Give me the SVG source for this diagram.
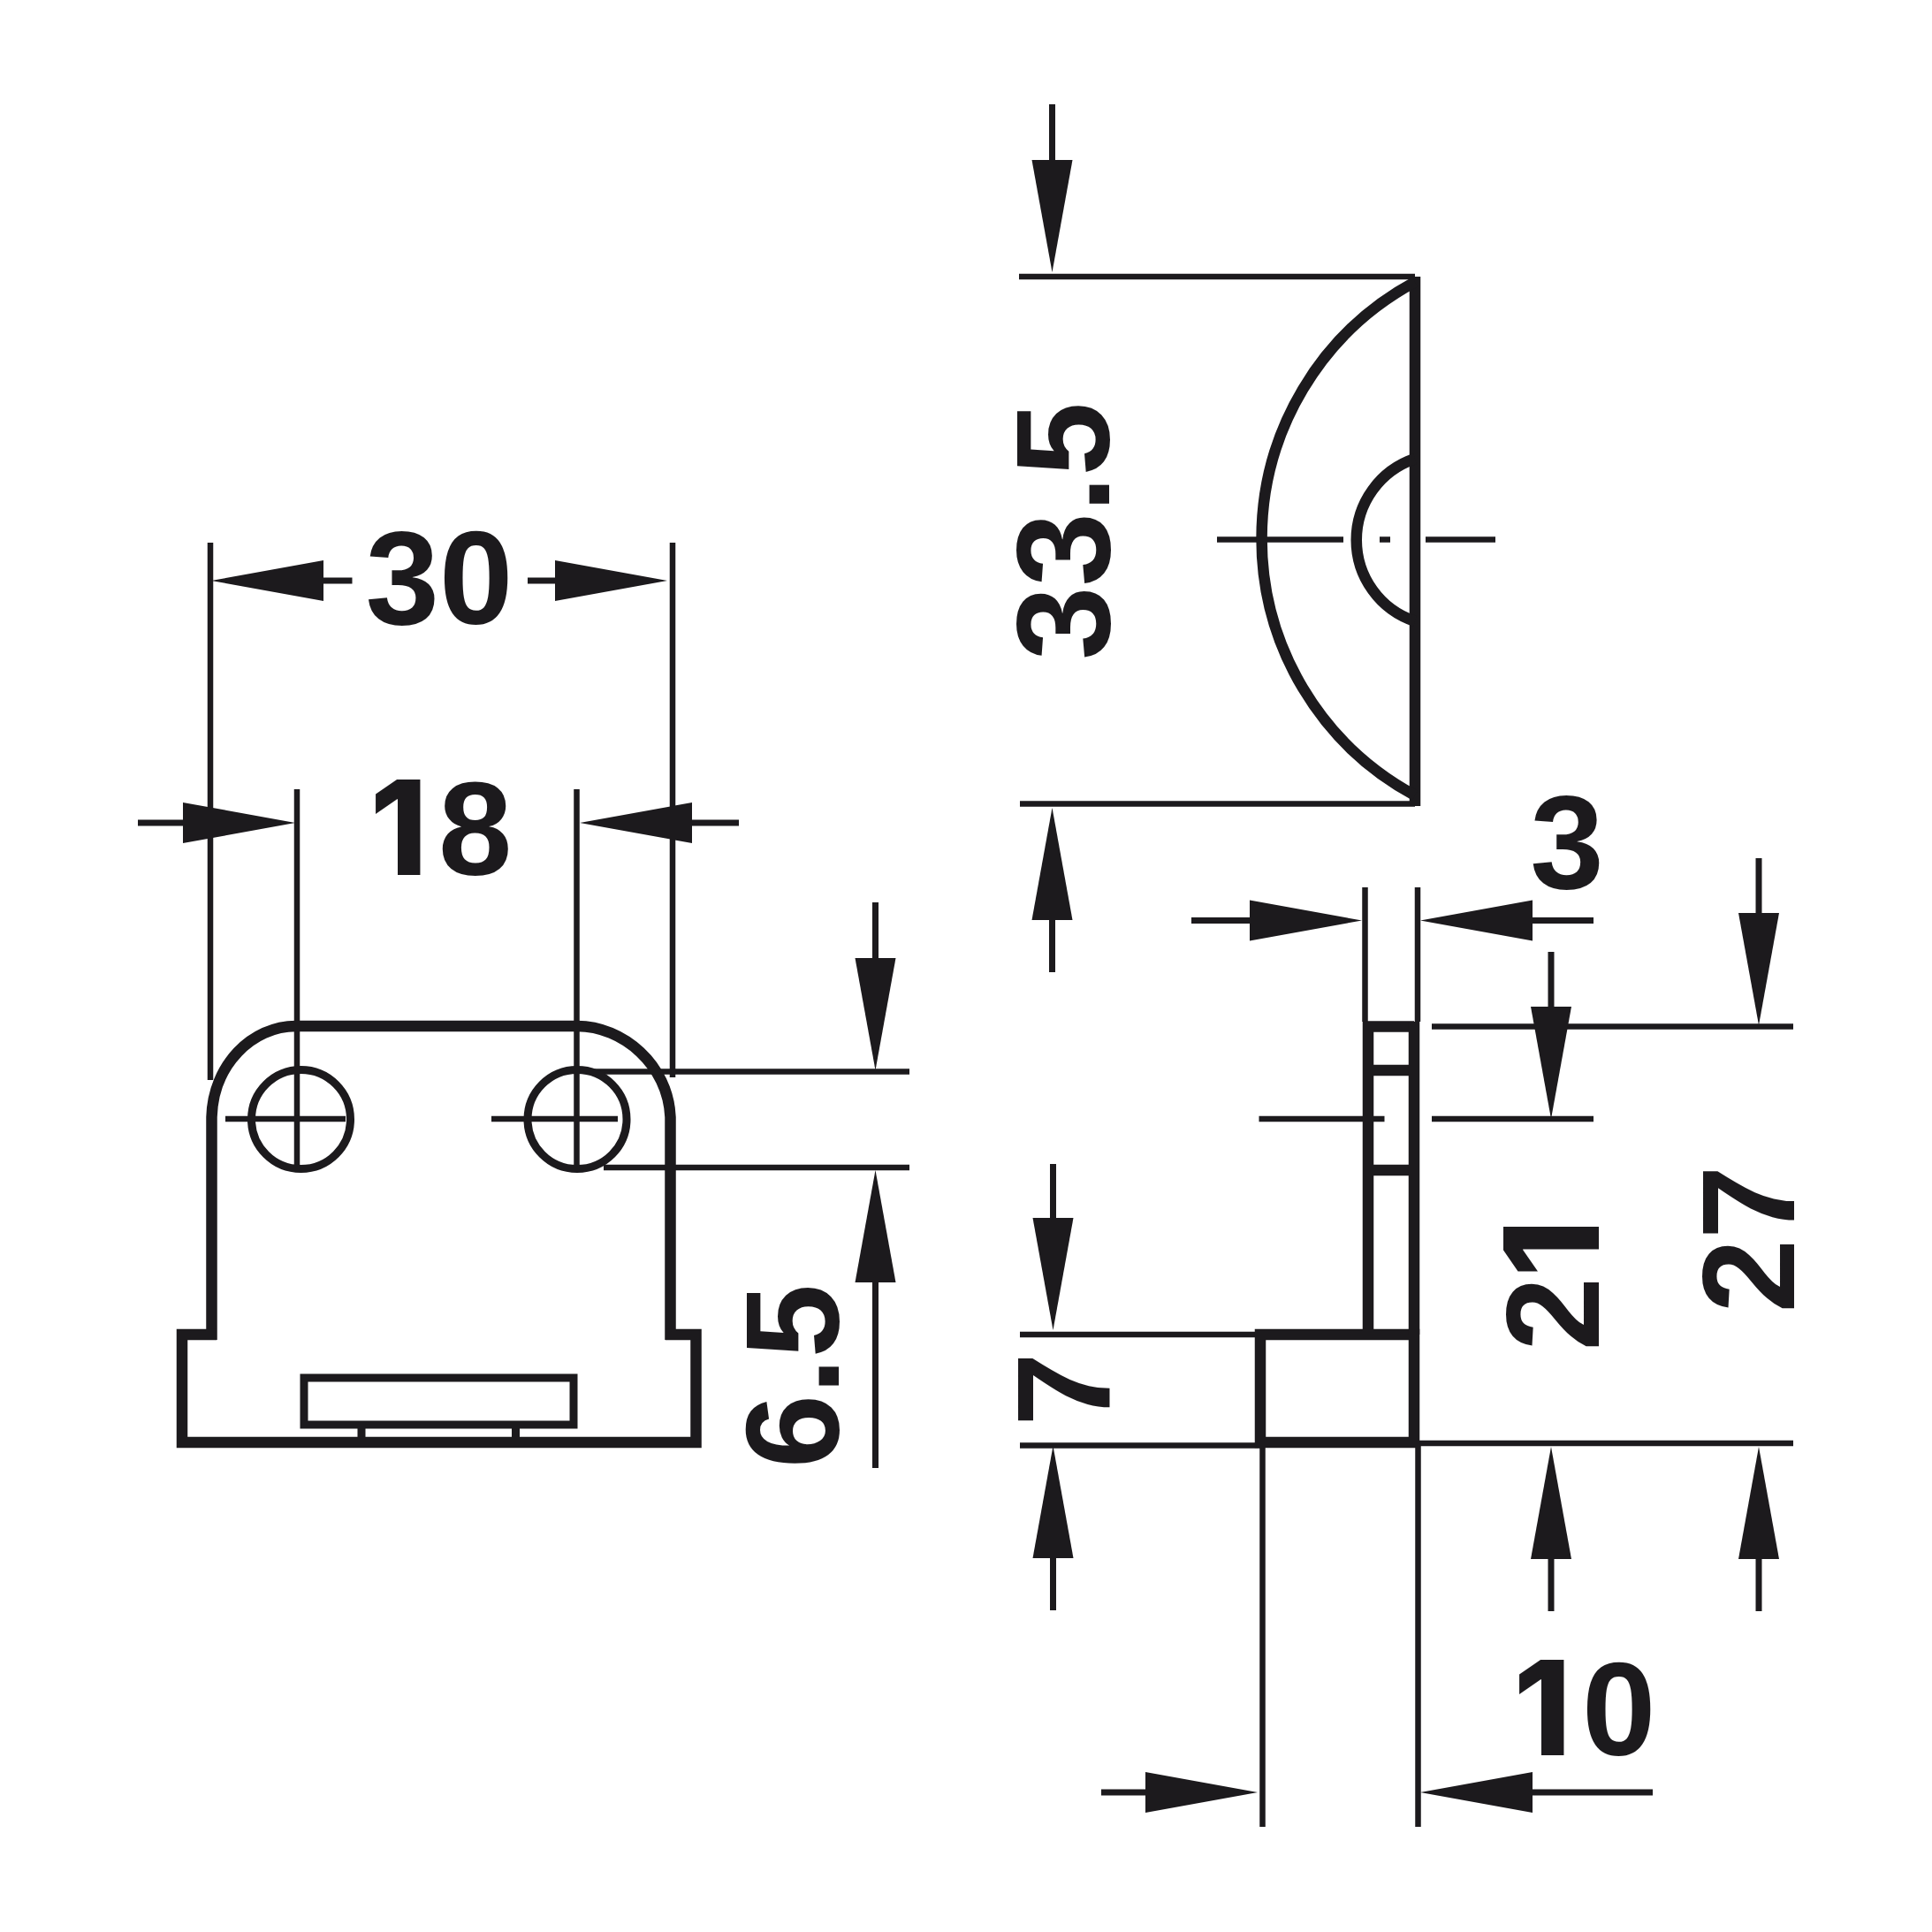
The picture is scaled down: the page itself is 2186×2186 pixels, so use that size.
<svg xmlns="http://www.w3.org/2000/svg" width="2186" height="2186" viewBox="0 0 2186 2186">
<style>
.o{fill:none;stroke:#1c1a1d;stroke-width:12.5;stroke-linejoin:miter}
.h{fill:none;stroke:#1c1a1d;stroke-width:9}
.l{fill:none;stroke:#1c1a1d;stroke-width:6.5;stroke-linecap:butt}
.a{fill:none;stroke:#1c1a1d;stroke-width:7;marker-end:url(#head)}
.t{font-family:"Liberation Sans",Arial,sans-serif;font-weight:700;font-size:150px;fill:#1c1a1d;text-anchor:middle}
.one{font-family:Inter,"Liberation Sans",sans-serif;font-weight:800;font-size:148px}
</style>
<defs>
<marker id="head" markerUnits="userSpaceOnUse" markerWidth="130" markerHeight="50" refX="0" refY="25" orient="auto" overflow="visible"><path d="M0 2L127 25L0 48Z" fill="#1c1a1d"/></marker>
<clipPath id="clip27"><rect x="1900" y="1300" width="130" height="200"/></clipPath>
</defs>
<rect width="2186" height="2186" fill="#fff"/>
<g id="connectors">
<path class="l" d="M238 614V1222M761 614V1219M336 893V1320M652.5 893V1320M666 1212.5H1029M683 1321H1029"/>
<line class="a" x1="398.5" y1="657" x2="366" y2="657"/>
<line class="a" x1="597" y1="657" x2="628" y2="657"/>
<line class="a" x1="156" y1="931" x2="207" y2="931"/>
<line class="a" x1="836" y1="931" x2="783" y2="931"/>
<line class="a" x1="990.5" y1="1021" x2="990.5" y2="1084"/>
<line class="a" x1="990.5" y1="1661" x2="990.5" y2="1451"/>
<path class="l" d="M1153 313H1601M1154 909.5H1601M1377 610.5H1520M1561 610.5H1573M1613 610.5H1692"/>
<line class="a" x1="1190.5" y1="118" x2="1190.5" y2="181"/>
<line class="a" x1="1190.5" y1="1100" x2="1190.5" y2="1041"/>
<path class="l" d="M1544.5 1004V1156M1604 1004V1156M1620 1161.5H2029M1620 1266H1803M1424.5 1266H1566.5M1154 1510H1426M1154 1635.5H1426M1604 1633H2029M1428.5 1636V2067M1604.5 1636V2067"/>
<line class="a" x1="1348" y1="1041.5" x2="1414" y2="1041.5"/>
<line class="a" x1="1803" y1="1041.5" x2="1734" y2="1041.5"/>
<line class="a" x1="1755" y1="1077" x2="1755" y2="1139"/>
<line class="a" x1="1755" y1="1823" x2="1755" y2="1764"/>
<line class="a" x1="1990" y1="971" x2="1990" y2="1033"/>
<line class="a" x1="1990" y1="1823" x2="1990" y2="1764"/>
<line class="a" x1="1191.5" y1="1317" x2="1191.5" y2="1378"/>
<line class="a" x1="1191.5" y1="1822" x2="1191.5" y2="1763"/>
<line class="a" x1="1246" y1="2028" x2="1296" y2="2028"/>
<line class="a" x1="1870" y1="2028" x2="1734" y2="2028"/>
</g>
<g id="front-view">
<path class="o" d="M239.5 1516V1264C241 1205 285 1161 335 1161H653C705 1161 756 1205 758.5 1264V1516"/>
<path class="o" d="M245 1510H206V1632H787.5V1510H753"/>
<circle class="h" cx="340.5" cy="1266.5" r="56"/>
<circle class="h" cx="653" cy="1266.5" r="56"/>
<path class="l" d="M255 1266H391M556 1266H699"/>
<rect class="h" x="344" y="1559" width="305" height="53"/>
<path class="h" d="M409 1612V1632M583.5 1612V1632"/>
</g>
<g id="top-view">
<path class="o" d="M1601 313V912"/>
<path class="o" d="M1601 319A330 330 0 0 0 1601 900"/>
<path class="o" d="M1601 519A97 97 0 0 0 1601 703"/>
</g>
<g id="side-view">
<path class="o" d="M1548 1510V1161.5H1600M1548 1211H1600M1548 1324H1600"/>
<rect class="o" x="1426" y="1510" width="174" height="122"/>
<path class="o" d="M1600 1156V1510"/>
</g>
<g id="labels">
<text class="t" x="497" y="706">30</text>
<text class="t" x="499" y="990"><tspan class="one">1</tspan><tspan dx="12">8</tspan></text>
<text class="t" x="1773" y="1005">3</text>
<text class="t" x="1793" y="1986"><tspan class="one">1</tspan><tspan dx="12">0</tspan></text>
<text class="t" transform="translate(1255 601) rotate(-90)">33.5</text>
<text class="t" transform="translate(949 1557) rotate(-90)">6.5</text>
<text class="t" transform="translate(1256 1572) rotate(-90)">7</text>
<text class="t" transform="translate(1809 1454) rotate(-90)">2<tspan class="one">1</tspan></text>
<g clip-path="url(#clip27)"><text class="t" transform="translate(2031 1402) rotate(-90)">27</text></g>
</g>
</svg>
